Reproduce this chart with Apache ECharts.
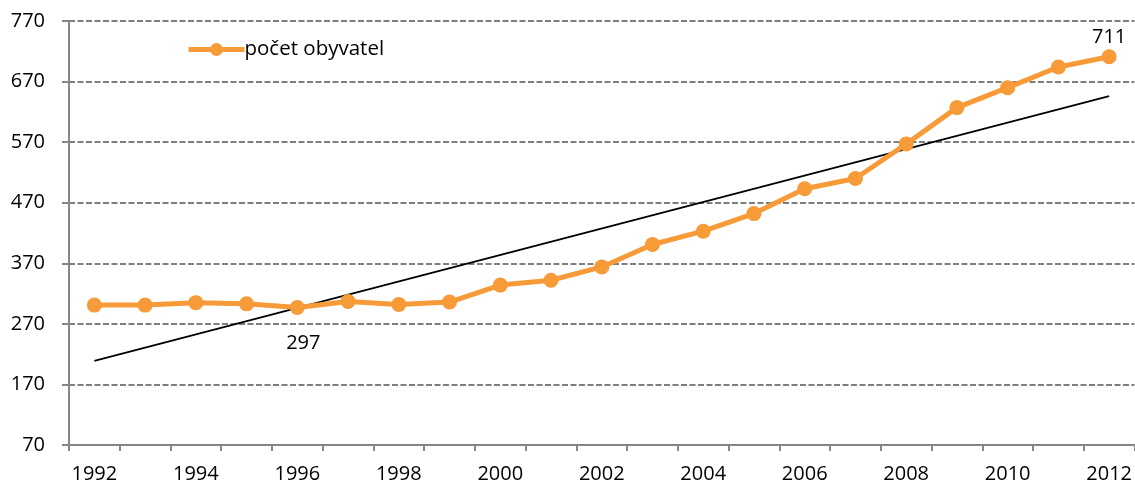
<!DOCTYPE html>
<html>
<head>
<meta charset="utf-8">
<script src="https://cdn.jsdelivr.net/npm/echarts@6/dist/echarts.min.js"></script>
<style>
html,body{margin:0;padding:0;background:#fff;}
#chart{width:1135px;height:486px;}
</style>
</head>
<body>
<div id="chart"></div>
<script>
const years = ['1992','1993','1994','1995','1996','1997','1998','1999','2000','2001','2002','2003','2004','2005','2006','2007','2008','2009','2010','2011','2012'];
const population = [301, 301, 305, 303, 297, 307, 302, 306, 334, 342, 364, 401, 423, 452, 493, 510, 567, 627, 660, 694, 711];
const trendStart = 209;
const trendEnd = 646;
const seriesName = 'počet obyvatel';
const labelledYears = ['1996', '2012'];

const trend = years.map((y, i) => i === 0 ? trendStart : (i === years.length - 1 ? trendEnd : null));
const font = '"Open Sans", Lato, sans-serif';
const orange = '#F79A38';

const chart = echarts.init(document.getElementById('chart'));
chart.setOption({
  animation: false,
  textStyle: { fontFamily: font },
  grid: { left: 69, right: 0, top: 21, bottom: 41 },
  legend: {
    data: [seriesName],
    left: 186, top: 39, padding: 0,
    itemWidth: 56, itemHeight: 16, itemGap: 0,
    lineStyle: { width: 5 },
    textStyle: { fontFamily: font, fontSize: 20.5, color: '#000', padding: [0,0,0,-5] }
  },
  xAxis: {
    type: 'category',
    data: years,
    boundaryGap: true,
    axisLine: { lineStyle: { color: '#868686', width: 2 } },
    axisTick: { show: true, length: 6, alignWithLabel: false, interval: 0, lineStyle: { color: '#868686', width: 2 } },
    axisLabel: { interval: 1, color: '#000', fontSize: 20, fontFamily: font, margin: 19 }
  },
  yAxis: {
    type: 'value',
    min: 70, max: 770, interval: 100,
    axisLine: { show: true, lineStyle: { color: '#868686', width: 2 } },
    axisTick: { show: true, length: 7, lineStyle: { color: '#868686', width: 2 } },
    axisLabel: { color: '#000', fontSize: 20, fontFamily: font, margin: 24 },
    splitLine: { show: true, lineStyle: { color: '#7f7f7f', width: 2, type: [6, 2.5] } }
  },
  series: [
    {
      name: 'trend',
      type: 'line',
      data: trend,
      connectNulls: true,
      symbol: 'none',
      lineStyle: { color: '#000', width: 1.8 },
      z: 1,
      silent: true
    },
    {
      name: seriesName,
      type: 'line',
      data: population.map((v, i) => {
        const yr = years[i];
        if (yr === labelledYears[0]) {
          return { value: v, label: { show: true, position: 'bottom', distance: 18, offset: [6, 0] } };
        }
        if (yr === labelledYears[1]) {
          return { value: v, label: { show: true, position: 'top', distance: 2 } };
        }
        return v;
      }),
      symbol: 'circle',
      symbolSize: 15,
      itemStyle: { color: orange },
      lineStyle: { color: orange, width: 5 },
      label: { show: false, color: '#000', fontSize: 20, fontFamily: font },
      z: 2
    }
  ]
});
</script>
</body>
</html>
